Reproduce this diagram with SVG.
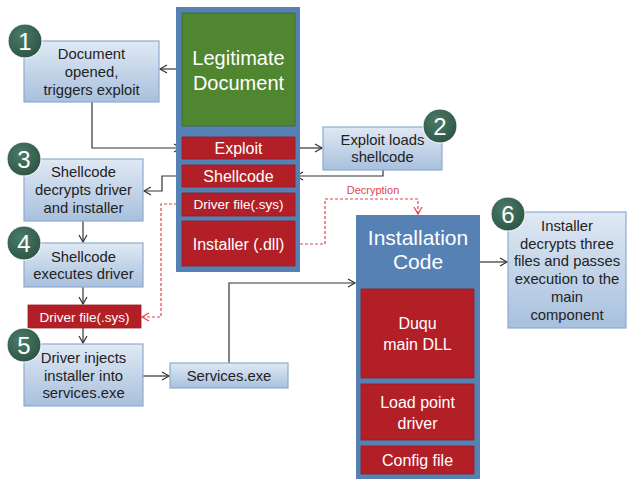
<svg xmlns="http://www.w3.org/2000/svg" width="640" height="479" viewBox="0 0 640 479">
<defs>
<linearGradient id="boxg" x1="0" y1="0" x2="0" y2="1">
<stop offset="0" stop-color="#e0e9f4"/>
<stop offset="1" stop-color="#a8c0dd"/>
</linearGradient>
<radialGradient id="circg" cx="0.4" cy="0.35" r="0.7">
<stop offset="0" stop-color="#4c7b68"/>
<stop offset="1" stop-color="#2c5444"/>
</radialGradient>
<marker id="arr" markerWidth="10" markerHeight="10" refX="8" refY="5" orient="auto" markerUnits="userSpaceOnUse">
<polyline points="1,1 8,5 1,9" fill="none" stroke="#333" stroke-width="1.2"/>
</marker>
<marker id="arrr" markerWidth="10" markerHeight="10" refX="8" refY="5" orient="auto" markerUnits="userSpaceOnUse">
<polyline points="1,1 8,5 1,9" fill="none" stroke="#e0454c" stroke-width="1.2"/>
</marker>
</defs>
<style>
text{font-family:"Liberation Sans",Arial,sans-serif;text-anchor:middle}
.box{fill:url(#boxg);stroke:#8eaad2;stroke-width:1.2}
.bt{font-size:14.8px;fill:#222}
.col{fill:#5581b5}
.red{fill:#b21f27;stroke:#9a1a20;stroke-width:0.8}
.wt{fill:#fff}
.circ{fill:url(#circg);stroke:#fff;stroke-width:1}
.num{font-size:24px;fill:#fff}
.con{fill:none;stroke:#333;stroke-width:1.2}
.dash{fill:none;stroke:#e0454c;stroke-width:1.2;stroke-dasharray:3,2}
</style>
<g id="connectors">
<path class="con" d="M182,69 H160" marker-end="url(#arr)"/>
<path class="con" d="M92,102 V148 H181" marker-end="url(#arr)"/>
<path class="con" d="M295,148 H322" marker-end="url(#arr)"/>
<path class="con" d="M383,170 V176 H296" marker-end="url(#arr)"/>
<path class="con" d="M182,176 H162 V191 H144" marker-end="url(#arr)"/>
<path class="con" d="M83,221 V242" marker-end="url(#arr)"/>
<path class="con" d="M83,287 V304" marker-end="url(#arr)"/>
<path class="con" d="M83,328 V343" marker-end="url(#arr)"/>
<path class="con" d="M143,376 H169" marker-end="url(#arr)"/>
<path class="con" d="M229,363 V283 H355" marker-end="url(#arr)"/>
<path class="con" d="M480,262 H507" marker-end="url(#arr)"/>
<path class="dash" d="M182,204 H161 V317 H142" marker-end="url(#arrr)"/>
<path class="dash" d="M295,244 H325 V199 H418 V214" marker-end="url(#arrr)"/>
<text x="373" y="194" style="font-size:11px;fill:#e0454c">Decryption</text>
</g>
<g id="doc-column">
<rect class="col" x="176" y="7" width="124" height="265"/>
<rect x="182" y="13" width="113" height="113" fill="#518630" stroke="#3f6a25" stroke-width="0.8"/>
<text class="wt" x="238.5" y="65" style="font-size:20px">Legitimate</text>
<text class="wt" x="238.5" y="90" style="font-size:20px">Document</text>
</g>
<g id="exploit">
<rect class="red" x="182" y="137" width="113" height="22"/>
<text class="wt" x="238.5" y="154" style="font-size:16px">Exploit</text>
</g>
<g id="shellcode">
<rect class="red" x="182" y="165" width="113" height="22"/>
<text class="wt" x="238.5" y="182" style="font-size:16px">Shellcode</text>
</g>
<g id="driver-file">
<rect class="red" x="182" y="193" width="113" height="23"/>
<text class="wt" x="238.5" y="209" style="font-size:13.5px">Driver file(.sys)</text>
</g>
<g id="installer-dll">
<rect class="red" x="182" y="221" width="113" height="45"/>
<text class="wt" x="238.5" y="250" style="font-size:16px">Installer (.dll)</text>
</g>
<g id="step1">
<rect class="box" x="24" y="41" width="135" height="61"/>
<text class="bt" x="91.5" y="59">Document</text>
<text class="bt" x="91.5" y="77">opened,</text>
<text class="bt" x="91.5" y="95">triggers exploit</text>
<circle class="circ" cx="25" cy="41" r="17"/>
<text class="num" x="25" y="49.5">1</text>
</g>
<g id="step2">
<rect class="box" x="323" y="127" width="119" height="43"/>
<text class="bt" x="382.5" y="145">Exploit loads</text>
<text class="bt" x="382.5" y="162">shellcode</text>
<circle class="circ" cx="440" cy="126" r="17"/>
<text class="num" x="440" y="134.5">2</text>
</g>
<g id="step3">
<rect class="box" x="24" y="159" width="119" height="62"/>
<text class="bt" x="83.5" y="177">Shellcode</text>
<text class="bt" x="83.5" y="195">decrypts driver</text>
<text class="bt" x="83.5" y="213">and installer</text>
<circle class="circ" cx="24" cy="159" r="17"/>
<text class="num" x="24" y="167.5">3</text>
</g>
<g id="step4">
<rect class="box" x="24" y="243" width="119" height="44"/>
<text class="bt" x="83.5" y="262">Shellcode</text>
<text class="bt" x="83.5" y="279">executes driver</text>
<circle class="circ" cx="24" cy="243" r="17"/>
<text class="num" x="24" y="251.5">4</text>
</g>
<g id="driver-file-2">
<rect class="red" x="28" y="305" width="113" height="23"/>
<text class="wt" x="84.5" y="321.5" style="font-size:13.5px">Driver file(.sys)</text>
</g>
<g id="step5">
<rect class="box" x="24" y="344" width="119" height="62"/>
<text class="bt" x="83.5" y="363">Driver injects</text>
<text class="bt" x="83.5" y="381">installer into</text>
<text class="bt" x="83.5" y="398">services.exe</text>
<circle class="circ" cx="24" cy="345" r="17"/>
<text class="num" x="24" y="353.5">5</text>
</g>
<g id="services">
<rect class="box" x="170" y="363" width="118" height="25"/>
<text class="bt" x="229" y="381">Services.exe</text>
</g>
<g id="installation-code">
<rect class="col" x="356" y="215" width="124" height="264"/>
<text class="wt" x="418" y="245" style="font-size:21px">Installation</text>
<text class="wt" x="418" y="269" style="font-size:21px">Code</text>
</g>
<g id="duqu-dll">
<rect class="red" x="361" y="289" width="113" height="89"/>
<text class="wt" x="417.5" y="329" style="font-size:16px">Duqu</text>
<text class="wt" x="417.5" y="350" style="font-size:16px">main DLL</text>
</g>
<g id="load-point">
<rect class="red" x="361" y="384" width="113" height="56"/>
<text class="wt" x="417.5" y="408" style="font-size:16px">Load point</text>
<text class="wt" x="417.5" y="429" style="font-size:16px">driver</text>
</g>
<g id="config">
<rect class="red" x="361" y="446" width="113" height="28"/>
<text class="wt" x="417.5" y="466" style="font-size:16px">Config file</text>
</g>
<g id="step6">
<rect class="box" x="508" y="212" width="118" height="116"/>
<text class="bt" x="567" y="231">Installer</text>
<text class="bt" x="567" y="249">decrypts three</text>
<text class="bt" x="567" y="266">files and passes</text>
<text class="bt" x="567" y="284">execution to the</text>
<text class="bt" x="567" y="302">main</text>
<text class="bt" x="567" y="320">component</text>
<circle class="circ" cx="508" cy="214" r="17"/>
<text class="num" x="508" y="222.5">6</text>
</g>
</svg>
